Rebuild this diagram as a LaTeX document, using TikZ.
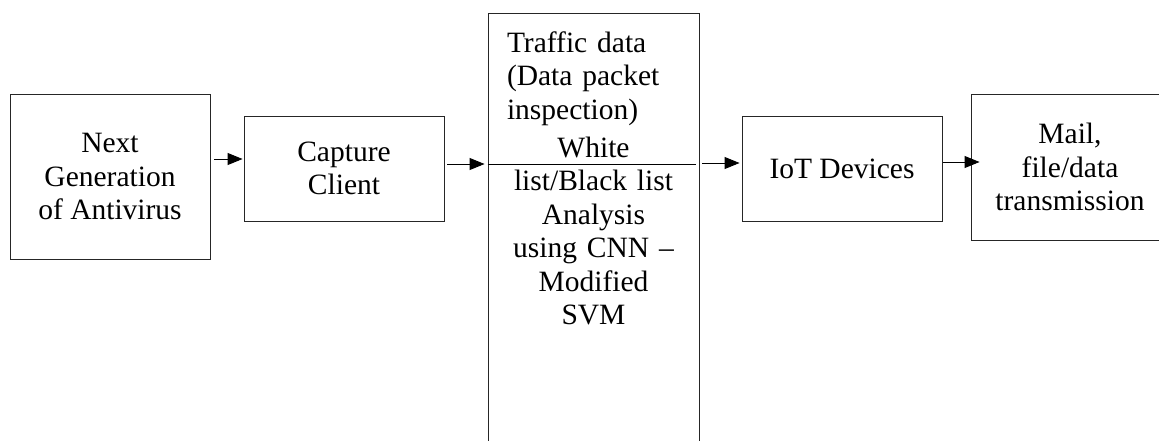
\documentclass[tikz,border=0pt]{standalone}
\usepackage{fontspec}
\setmainfont{Liberation Serif}
\usetikzlibrary{arrows.meta}
\begin{document}
\begin{tikzpicture}[x=1pt,y=-1pt,
  txt/.style={font=\fontsize{29.5}{33.5}\selectfont},
  blk/.style={txt, draw=black!85, line width=0.9pt, rectangle, inner sep=0pt, align=center},
  arr/.style={-{Triangle[length=15pt,width=12pt]}, line width=0.9pt, draw=black},
  link/.style={line width=0.9pt, draw=black}]
\useasboundingbox (0,0) rectangle (1159,440);
\clip (0,0) rectangle (1159,440);

% processing stages
\node[blk, minimum width=200pt, minimum height=165pt] (ngav) at (110,176.5) {Next\\Generation\\of Antivirus};
\node[blk, minimum width=200pt, minimum height=105pt] (cap) at (344,168.5) {Capture\\Client};
\node[blk, minimum width=211pt, minimum height=447pt] (mid) at (593.5,236.5) {};
\node[txt, anchor=north, text width=173pt, inner sep=0pt] (midtext) at (593.5,31.5)
  {\parindent=0pt\raggedright Traffic data\\(Data packet\\inspection)\par\vspace{4.5pt}\centering White\\list/Black list\\Analysis\\using CNN –\\Modified\\SVM\par};
\node[blk, minimum width=200pt, minimum height=105pt] (iot) at (842,168.5) {IoT Devices};
\node[blk, minimum width=198pt, minimum height=146pt] (mail) at (1070,167) {Mail,\\file/data\\transmission};

% flow between the stages
\coordinate (lineend) at (696,164);
\draw[arr, shorten <=4pt, shorten >=1pt] (ngav.east |- 0,159) -- (cap.west |- 0,159);
\draw[arr, shorten <=3pt, shorten >=3pt] (cap.east |- 0,164) -- (mid.west |- 0,164);
\draw[link] (mid.west |- 0,164) -- (lineend);
\draw[arr, shorten <=3pt, shorten >=2pt] (mid.east |- 0,163) -- (iot.west |- 0,163);
\draw[arr, shorten <=1pt, shorten >=-9pt] (iot.east |- 0,162) -- (mail.west |- 0,162);
\end{tikzpicture}
\end{document}
